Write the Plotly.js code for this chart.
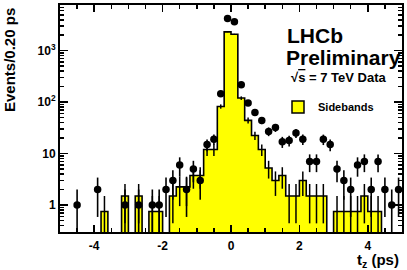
<!DOCTYPE html>
<html>
<head>
<meta charset="utf-8">
<script src="https://cdn.plot.ly/plotly-3.0.1.min.js"></script>
<style>
html, body { margin: 0; padding: 0; background: #ffffff; }
#chart { width: 407px; height: 270px; }
</style>
</head>
<body>
<div id="chart"></div>
<script>
// ---- Data ----
const binWidth = 0.2;
const binCenters = [
  -4.9, -4.7, -4.5, -4.3, -4.1, -3.9, -3.7, -3.5, -3.3, -3.1,
  -2.9, -2.7, -2.5, -2.3, -2.1, -1.9, -1.7, -1.5, -1.3, -1.1,
  -0.9, -0.7, -0.5, -0.3, -0.1, 0.1, 0.3, 0.5, 0.7, 0.9,
  1.1, 1.3, 1.5, 1.7, 1.9, 2.1, 2.3, 2.5, 2.7, 2.9,
  3.1, 3.3, 3.5, 3.7, 3.9, 4.1, 4.3, 4.5, 4.7, 4.9
];
const sidebandValues = [
  0, 0, 0, 0, 0, 0, 0.75, 0, 0, 1.5,
  0, 1.5, 0, 0.75, 0.75, 0, 1.5, 2.25, 2.25, 3.75,
  3.75, 12, 12, 82.5, 2330, 2090, 120, 44.25, 22.5, 12,
  5.25, 3, 3.75, 1.5, 1.5, 3, 1.5, 1.5, 1.5, 0,
  0.75, 0.75, 0.75, 0.75, 1.5, 0.75, 0.75, 0, 0, 0
];
const sidebandWeight = 0.75;

const dataCenters = [
  -4.5, -3.9, -3.1, -2.7, -2.3, -2.1, -1.9, -1.7, -1.5, -1.3,
  -1.1, -0.9, -0.7, -0.5, -0.3, -0.1, 0.1, 0.3, 0.5, 0.7,
  0.9, 1.1, 1.3, 1.5, 1.7, 1.9, 2.1, 2.3, 2.5, 2.7,
  2.9, 3.1, 3.3, 3.5, 3.7, 3.9, 4.1, 4.3, 4.5, 4.7, 4.9
];
const dataCounts = [
  1, 2, 1, 1, 1, 1, 2, 3, 6, 2,
  5, 3, 15, 19, 146, 4225, 3640, 218, 96, 63,
  44, 27, 32, 17, 18, 25, 19, 7, 7, 19,
  15, 5, 3, 2, 6, 7, 2, 7, 2, 1, 2
];

const xTickVals = [-4, -2, 0, 2, 4];
const xTickText = ['-4', '-2', '0', '2', '4'];
const yTickVals = [1, 10, 100, 1000];
const yTickText = ['1', '10', '10<sup>2</sup>', '10<sup>3</sup>'];
const yMinorTickVals = [
  0.3, 0.4, 0.5, 0.6, 0.7, 0.8, 0.9,
  2, 3, 4, 5, 6, 7, 8, 9,
  20, 30, 40, 50, 60, 70, 80, 90,
  200, 300, 400, 500, 600, 700, 800, 900,
  2000, 3000, 4000, 5000, 6000, 7000
];

// ---- Derived traces ----
const FONT = 'Liberation Sans, Arial, Helvetica, sans-serif';
const floorVal = 1e-3; // empty bins drop below the axis (clipped)
const stepX = binCenters.map(c => c - binWidth / 2);
stepX.push(binCenters[binCenters.length - 1] + binWidth / 2);
const stepY = sidebandValues.map(v => (v > 0 ? v : floorVal));
stepY.push(stepY[stepY.length - 1]);

const hX = [], hY = [], hE = [];
binCenters.forEach((c, i) => {
  if (sidebandValues[i] > 0) {
    hX.push(c);
    hY.push(sidebandValues[i]);
    hE.push(Math.sqrt(sidebandWeight * sidebandValues[i]));
  }
});
const dErr = dataCounts.map(n => Math.sqrt(n));

const traces = [
  {
    type: 'scatter', mode: 'lines', x: stepX, y: stepY,
    line: { shape: 'hv', color: '#000000', width: 1.6 },
    fill: 'tozeroy', fillcolor: '#ffff00',
    showlegend: false, hoverinfo: 'skip'
  },
  {
    type: 'scatter', mode: 'markers', x: hX, y: hY,
    marker: { size: 1, color: 'rgba(0,0,0,0)' },
    error_y: { type: 'data', array: hE, visible: true, width: 0, thickness: 1.5, color: '#000000' },
    showlegend: false, hoverinfo: 'skip'
  },
  {
    type: 'scatter', mode: 'markers', x: dataCenters, y: dataCounts,
    marker: { size: 7.5, color: '#000000', symbol: 'circle' },
    error_y: { type: 'data', array: dErr, visible: true, width: 0, thickness: 1.6, color: '#000000' },
    showlegend: false, name: 'Data'
  },
  {
    type: 'bar', x: [null], y: [null], name: 'Sidebands',
    marker: { color: '#ffff00', line: { color: '#000000', width: 1.5 } },
    showlegend: true
  }
];

const px = v => (v - 60) / 342;
const py = v => (232 - v) / 227;

const layout = {
  width: 407, height: 270,
  margin: { l: 60, r: 5, t: 5, b: 38 },
  paper_bgcolor: '#ffffff', plot_bgcolor: '#ffffff',
  showlegend: true,
  legend: {
    x: px(278), y: py(107), xanchor: 'left', yanchor: 'middle',
    bgcolor: 'rgba(0,0,0,0)', borderwidth: 0,
    font: { family: FONT, size: 11, color: '#000000', weight: 'bold' }
  },
  xaxis: {
    range: [-5, 5], showline: true, linewidth: 2, linecolor: '#000000', mirror: 'ticks',
    ticks: 'inside', ticklen: 7, tickwidth: 1.5, tickcolor: '#000000',
    tickmode: 'array', tickvals: xTickVals, ticktext: xTickText,
    tickfont: { family: FONT, size: 12, color: '#000000', weight: 'bold' },
    ticklabelstandoff: 2,
    showgrid: false, zeroline: false,
    minor: { dtick: 0.5, tick0: 0, ticks: 'inside', ticklen: 4, tickwidth: 1.5, tickcolor: '#000000', showgrid: false }
  },
  yaxis: {
    type: 'log', range: [-0.525, 3.889], showline: true, linewidth: 2, linecolor: '#000000', mirror: 'ticks',
    ticks: 'inside', ticklen: 8, tickwidth: 1.5, tickcolor: '#000000',
    tickmode: 'array', tickvals: yTickVals, ticktext: yTickText,
    tickfont: { family: FONT, size: 12, color: '#000000', weight: 'bold' },
    ticklabelstandoff: 0,
    showgrid: false, zeroline: false,
    minor: { tickmode: 'array', tickvals: yMinorTickVals, ticks: 'inside', ticklen: 4, tickwidth: 1.5, tickcolor: '#000000', showgrid: false }
  },
  annotations: [
    { text: 'Events/0.20 ps', textangle: -90, xref: 'paper', yref: 'paper', x: px(9), y: py(6),
      xanchor: 'center', yanchor: 'top', showarrow: false,
      font: { family: FONT, size: 15, color: '#000000', weight: 'bold' } },
    { text: 't<sub>z</sub> (ps)', xref: 'paper', yref: 'paper', x: px(401), y: py(260),
      xanchor: 'right', yanchor: 'middle', showarrow: false,
      font: { family: FONT, size: 15, color: '#000000', weight: 'bold' } },
    { text: 'LHCb', xref: 'paper', yref: 'paper', x: px(285), y: py(36),
      xanchor: 'left', yanchor: 'middle', showarrow: false,
      font: { family: FONT, size: 21, color: '#000000', weight: 'bold' } },
    { text: 'Preliminary', xref: 'paper', yref: 'paper', x: px(284), y: py(57),
      xanchor: 'left', yanchor: 'middle', showarrow: false,
      font: { family: FONT, size: 21, color: '#000000', weight: 'bold' } },
    { text: '√<span style="text-decoration:overline">s</span> = 7 TeV Data', xref: 'paper', yref: 'paper', x: px(289), y: py(78),
      xanchor: 'left', yanchor: 'middle', showarrow: false,
      font: { family: FONT, size: 13, color: '#000000', weight: 'bold' } }
  ]
};

Plotly.newPlot('chart', traces, layout, { staticPlot: true, displayModeBar: false });
</script>
</body>
</html>
